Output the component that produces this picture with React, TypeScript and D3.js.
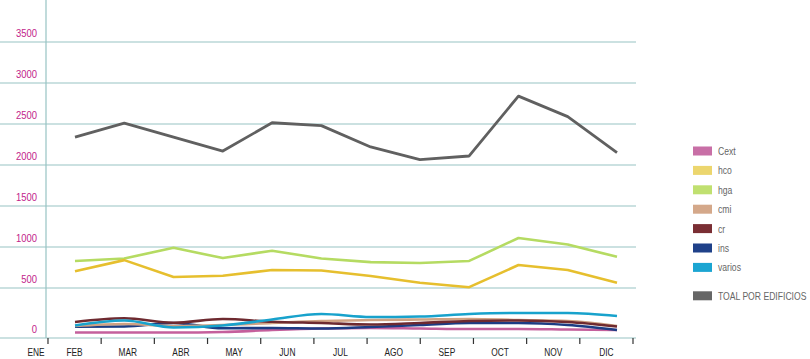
import React, { useEffect, useRef } from "react";
import * as d3 from "d3";

// months (data points) and axis labels
const months = ["ENE", "FEB", "MAR", "ABR", "MAY", "JUN", "JUL", "AGO", "SEP", "OCT", "NOV", "DIC"];
const yTicks = [0, 500, 1000, 1500, 2000, 2500, 3000, 3500];

// series values
const total = [2340, 2510, 2340, 2170, 2515, 2480, 2220, 2065, 2110, 2840, 2590, 2150];
const hga = [830, 860, 990, 865, 955, 860, 815, 805, 830, 1110, 1030, 880];
const hco = [705, 840, 635, 650, 720, 713, 646, 565, 510, 780, 720, 565];
const varios = [125, 175, 105, 125, 185, 240, 210, 215, 240, 250, 250, 220];
const cmi = [120, 140, 120, 130, 150, 170, 180, 185, 190, 180, 170, 120];
const cr = [160, 197, 153, 190, 163, 150, 135, 150, 170, 175, 160, 115];
const ins = [113, 115, 150, 97, 100, 95, 110, 130, 150, 150, 130, 80];
const cext = [55, 55, 55, 60, 80, 95, 100, 95, 90, 90, 85, 80];

const series = [
  { name: "Cext", values: cext, color: "#c4609c", swatch: "#c86fa6" },
  { name: "hco", values: hco, color: "#e6bf2e", swatch: "#ecd66e" },
  { name: "hga", values: hga, color: "#b5db62", swatch: "#c0e070" },
  { name: "cmi", values: cmi, color: "#cfa283", swatch: "#d4a88a" },
  { name: "cr", values: cr, color: "#6e2a30", swatch: "#7a2e34" },
  { name: "ins", values: ins, color: "#1c3c84", swatch: "#1f4189" },
  { name: "varios", values: varios, color: "#18a2cc", swatch: "#1ba5d2" },
];
const totalSeries = { name: "TOAL POR EDIFICIOS", values: total, color: "#606060", swatch: "#666666" };

const W = 810;
const H = 359;
const FONT = "'Liberation Sans', Arial, sans-serif";

export default function App() {
  const svgRef = useRef<SVGSVGElement | null>(null);

  useEffect(() => {
    const svg = d3.select(svgRef.current);
    svg.selectAll("*").remove();

    const gridColor = "#97c3c3";
    const axisY = 338;
    const plotRight = 636;

    // uneven vertical scale, like the original (0-500 band is taller)
    const y = d3.scaleLinear().domain([0, 500, 3500]).range([axisY, 288, 42]);
    const x = d3.scalePoint<string>().domain(months).range([75, 617]);
    const xBand = d3.scaleBand<string>().domain(months).range([48 - 53.2, 633]).paddingInner(0);

    // condensed-looking text: squeeze horizontally
    const label = (
      tx: number,
      ty: number,
      str: string,
      size: number,
      fill: string,
      anchor: string,
      sx: number
    ) =>
      svg
        .append("text")
        .attr("transform", `translate(${tx},${ty}) scale(${sx},1)`)
        .attr("text-anchor", anchor)
        .attr("font-family", FONT)
        .attr("font-size", size)
        .attr("fill", fill)
        .text(str);

    // grid lines
    svg
      .selectAll(".grid")
      .data(yTicks)
      .enter()
      .append("line")
      .attr("x1", 0)
      .attr("x2", plotRight)
      .attr("y1", (d) => y(d))
      .attr("y2", (d) => y(d))
      .attr("stroke", gridColor)
      .attr("stroke-width", 1.2);

    // vertical axis
    svg
      .append("line")
      .attr("x1", 46)
      .attr("x2", 46)
      .attr("y1", 0)
      .attr("y2", axisY)
      .attr("stroke", gridColor)
      .attr("stroke-width", 1.2);

    // y labels
    yTicks.forEach((d) => label(37, y(d) - 5, String(d), 11, "#c2248a", "end", 0.86));

    // x ticks at band edges
    svg
      .selectAll(".xtick")
      .data(months)
      .enter()
      .append("line")
      .attr("x1", (d) => (xBand(d) as number) + xBand.bandwidth())
      .attr("x2", (d) => (xBand(d) as number) + xBand.bandwidth())
      .attr("y1", axisY)
      .attr("y2", axisY + 6)
      .attr("stroke", "#333")
      .attr("stroke-width", 1.2);

    // x labels centered in bands
    months.forEach((d) =>
      label(Math.max((xBand(d) as number) + xBand.bandwidth() / 2, 36), 356, d, 11, "#222", "middle", 0.76)
    );

    const lineFor = (smooth: boolean) =>
      d3
        .line<number>()
        .x((_, i) => x(months[i]) as number)
        .y((d) => y(d))
        .curve(smooth ? d3.curveMonotoneX : d3.curveLinear);

    // lower lines first, then the big ones on top
    const byName = (n: string) => series.find((s) => s.name === n)!;
    ["Cext", "ins", "cmi", "cr", "varios"].map(byName).forEach((s) => {
      svg
        .append("path")
        .attr("d", lineFor(true)(s.values))
        .attr("fill", "none")
        .attr("stroke", s.color)
        .attr("stroke-width", 2.6)
        .attr("stroke-linejoin", "round");
    });
    ["hga", "hco"].map(byName).forEach((s) => {
      svg
        .append("path")
        .attr("d", lineFor(false)(s.values))
        .attr("fill", "none")
        .attr("stroke", s.color)
        .attr("stroke-width", 2.6)
        .attr("stroke-linejoin", "round");
    });
    svg
      .append("path")
      .attr("d", lineFor(false)(totalSeries.values))
      .attr("fill", "none")
      .attr("stroke", totalSeries.color)
      .attr("stroke-width", 2.8)
      .attr("stroke-linejoin", "round");

    // legend
    const items = [...series, totalSeries];
    items.forEach((s, i) => {
      const yy = 151 + i * 19.4 + (i === items.length - 1 ? 9 : 0);
      svg
        .append("rect")
        .attr("x", 693)
        .attr("y", yy - 4.5)
        .attr("width", 19)
        .attr("height", 9)
        .attr("fill", s.swatch);
      label(718, yy + 4, s.name, 10.5, "#666", "start", 0.82);
    });
  }, []);

  return (
    <svg
      ref={svgRef}
      width={W}
      height={H}
      style={{ position: "absolute", left: 0, top: 0, background: "#fff" }}
    />
  );
}
